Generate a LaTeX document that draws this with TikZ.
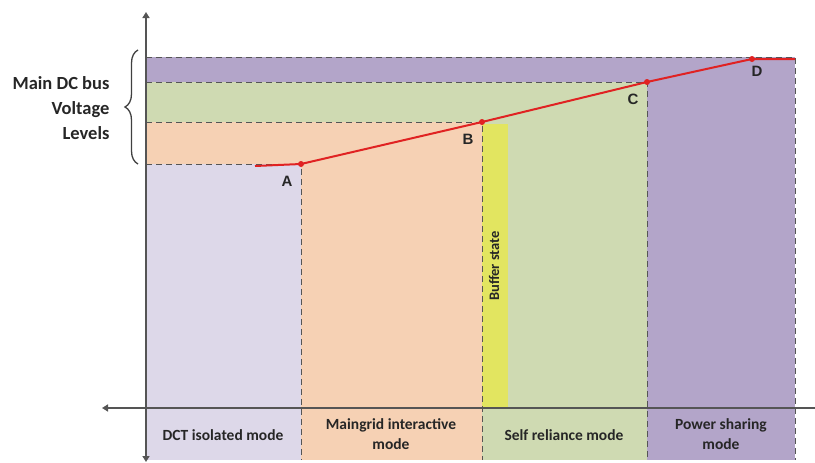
\documentclass[tikz,border=0pt]{standalone}
\usepackage{fontspec}
\setmainfont{Carlito}
\newfontfamily\arialfont{Liberation Sans}
\usetikzlibrary{arrows.meta,decorations.pathreplacing}
\definecolor{lavfill}{HTML}{DDD8E9}
\definecolor{violetfill}{HTML}{B3A5C9}
\definecolor{salmonfill}{HTML}{F6D1B4}
\definecolor{sagefill}{HTML}{CFDAB2}
\definecolor{bufferfill}{HTML}{E2E560}
\definecolor{axisgray}{HTML}{555555}
\definecolor{curvered}{HTML}{E02222}
\tikzset{
  levelline/.style={axisgray, line width=0.8pt, dash pattern=on 6pt off 4pt},
  axisline/.style={axisgray, line width=1.6pt},
  pointlabel/.style={font=\arialfont\bfseries\fontsize{15}{17}\selectfont, text=black!85},
  modelabel/.style={font=\bfseries\fontsize{15.5}{20}\selectfont, align=center, text=black!85},
}
\begin{document}
\begin{tikzpicture}[x=1pt,y=-1pt]
        \useasboundingbox (0,0) rectangle (815,463);
        % mode regions
        \fill[violetfill] (146,57) rectangle (795,82);
        \fill[violetfill] (647,82) rectangle (795,460);
        \fill[sagefill] (146,82) rectangle (647,122);
        \fill[sagefill] (482,122) rectangle (647,460);
        \fill[salmonfill] (146,122) rectangle (482,164);
        \fill[salmonfill] (301,164) rectangle (482,460);
        \fill[lavfill] (146,164) rectangle (301,460);
        \fill[bufferfill] (482,124) rectangle (508,408);
        
        % voltage levels and mode borders
        \draw[levelline] (146,57) -- (795,57) -- (795,460);
        \draw[levelline] (146,82) -- (647,82) -- (647,460);
        \draw[levelline] (146,122) -- (482,122) -- (482,460);
        \draw[levelline] (146,164) -- (301,164) -- (301,460);
        
        % axes
        \draw[axisline, {Triangle[width=7pt,length=6pt]}-{Triangle[width=7pt,length=6pt]}] (146,462) -- (146,12);
        \draw[axisline, -{Triangle[width=7pt,length=6pt]}] (815,408) -- (102,408);
        
        % droop characteristic
        \coordinate (start) at (255,166);
        \coordinate (A) at (301,164);
        \coordinate (B) at (482,122);
        \coordinate (C) at (647,82);
        \coordinate (D) at (752,59);
        \coordinate (stop) at (795,59);
        \draw[curvered, line width=2pt] (start) -- (A) -- (B) -- (C) -- (D) -- (stop);
        \foreach \p in {A,B,C,D}
            \fill[curvered] (\p) circle (3pt);
        \node[pointlabel] (labA) at (287,181) {A};
        \node[pointlabel] (labB) at (468,139) {B};
        \node[pointlabel] (labC) at (633,99) {C};
        \node[pointlabel] (labD) at (757,71) {D};
        
        \node[modelabel, rotate=90, font=\bfseries\fontsize{14.5}{16}\selectfont] (buffer) at (494,266) {Buffer state};
        
        % voltage levels brace
        \draw[black!75, line width=1.3pt, decorate, decoration={brace, amplitude=13pt}] (138,164) -- (138,50);
        \node[anchor=east, align=right, font=\bfseries\fontsize{18.5}{25}\selectfont, text=black!85] (levels) at (113,108) {Main DC bus\\Voltage\\Levels};
        
        % mode names
        \node[modelabel] (isolated) at (223,435) {DCT isolated mode};
        \node[modelabel] (interactive) at (391,434) {Maingrid interactive\\mode};
        \node[modelabel] (reliance) at (564,435) {Self reliance mode};
        \node[modelabel] (sharing) at (721,434) {Power sharing\\mode};
    \end{tikzpicture}
\end{document}
